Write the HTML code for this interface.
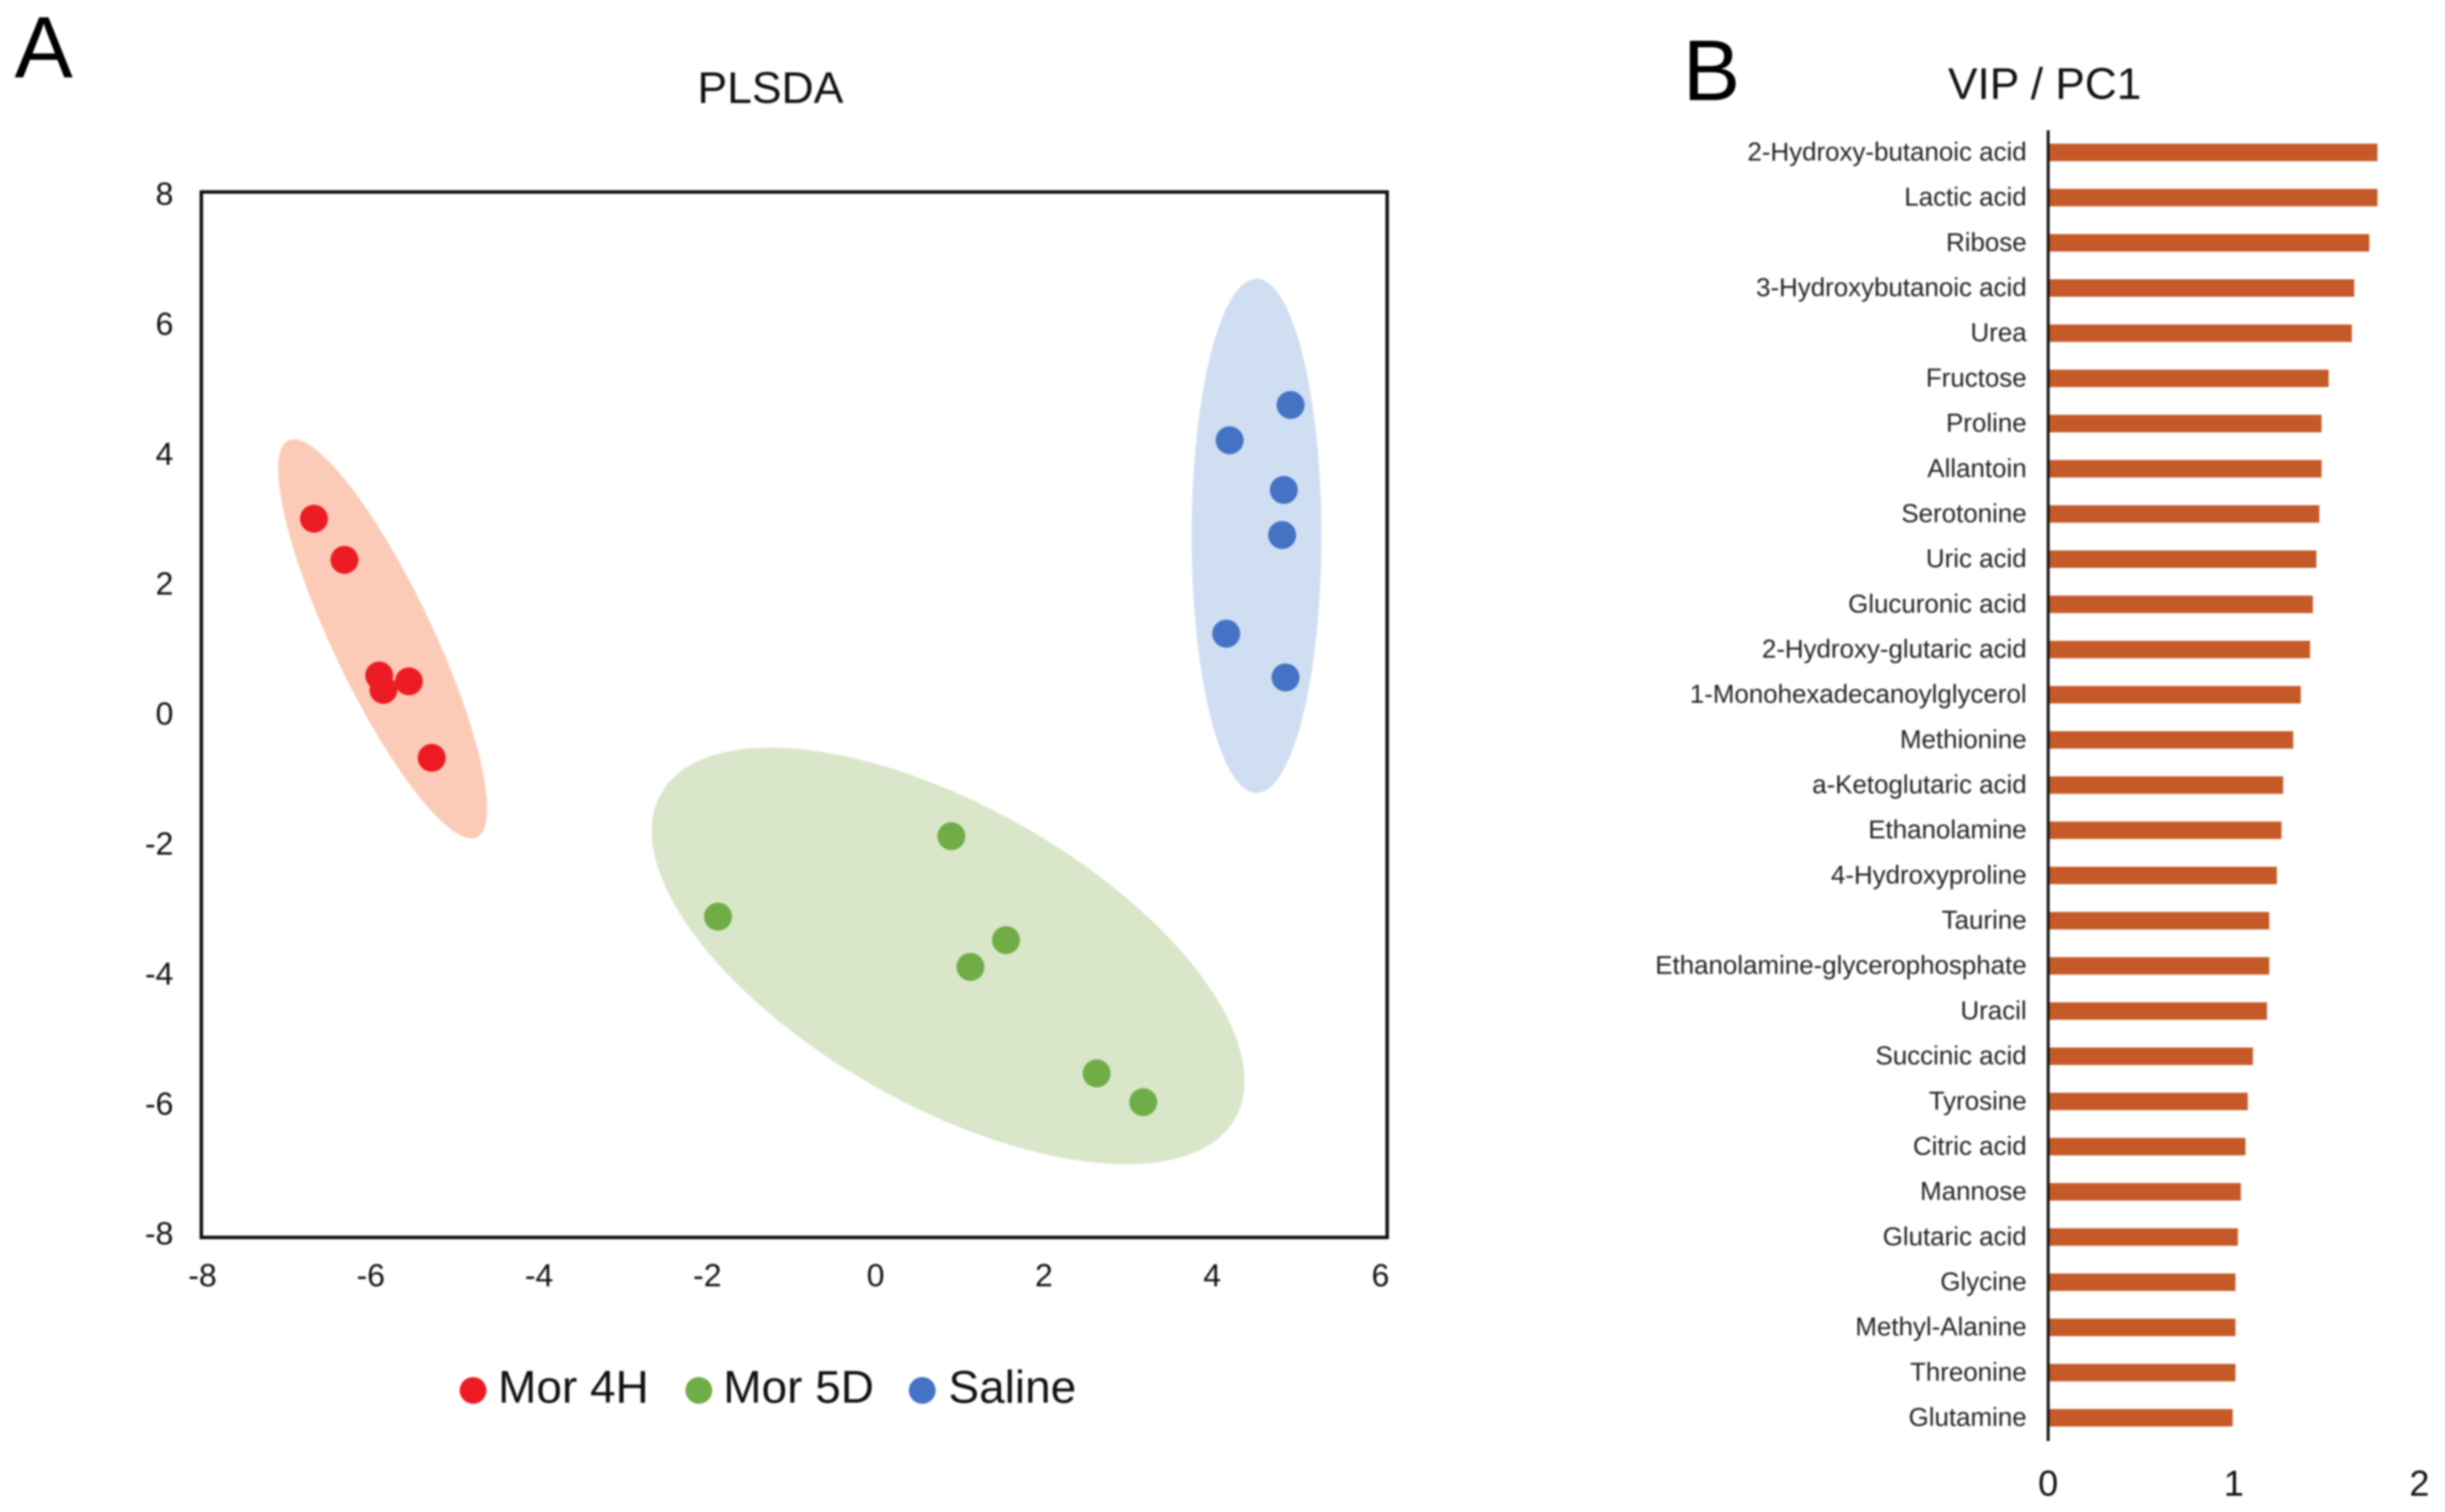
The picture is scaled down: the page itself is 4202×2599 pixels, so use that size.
<!DOCTYPE html>
<html lang="en">
<head>
<meta charset="utf-8">
<title>PLSDA and VIP / PC1</title>
<style>
html,body{margin:0;padding:0;background:#fff;}
svg{display:block;font-family:"Liberation Sans",Arial,sans-serif;filter:blur(1.5px);}
</style>
</head>
<body>
<svg id="figure" xmlns="http://www.w3.org/2000/svg" width="4202" height="2599" viewBox="0 0 4202 2599">
  <rect x="0" y="0" width="4202" height="2599" fill="#ffffff"/>
  <text x="25" y="133" font-size="150" fill="#000">A</text>
  <text x="2892" y="172" font-size="148" fill="#000">B</text>
  <text x="1324" y="177" font-size="76.5" text-anchor="middle" fill="#111">PLSDA</text>
  <text x="3514" y="170" font-size="76" text-anchor="middle" fill="#111">VIP / PC1</text>
  <g id="plsda"></g>
  <g id="vip"></g>
  <g>
    <circle cx="813" cy="2390" r="23" fill="#ed1c24"/>
    <text x="856" y="2411" font-size="79" fill="#111">Mor 4H</text>
    <circle cx="1201" cy="2390" r="23" fill="#70ad47"/>
    <text x="1243" y="2411" font-size="79" fill="#111">Mor 5D</text>
    <circle cx="1585" cy="2390" r="23" fill="#4472c4"/>
    <text x="1630" y="2411" font-size="79" fill="#111">Saline</text>
  </g>
</svg>
<script>
// PLSDA scores
const mor4hX = [-6.67, -6.31, -5.90, -5.85, -5.55, -5.28];
const mor4hY = [3.00, 2.37, 0.60, 0.38, 0.51, -0.66];
const mor5dX = [0.855, -1.90, 1.50, 1.08, 2.57, 3.12];
const mor5dY = [-1.86, -3.09, -3.45, -3.86, -5.49, -5.93];
const salineX = [4.86, 4.14, 4.78, 4.76, 4.10, 4.80];
const salineY = [4.74, 4.20, 3.44, 2.75, 1.24, 0.57];
// Confidence ellipses: mean x, mean y, x half-extent, y half-extent, correlation
const mor4hEllipse = [-5.86, 1.161, 1.233, 3.054, -0.85];
const mor5dEllipse = [0.817, -3.692, 3.50, 3.188, -0.60];
const salineEllipse = [4.458, 2.737, 0.766, 3.936, 0];
const xTickLabels = [-8, -6, -4, -2, 0, 2, 4, 6];
const yTickLabels = [8, 6, 4, 2, 0, -2, -4, -6, -8];

// VIP scores
const vipNames = ["2-Hydroxy-butanoic acid","Lactic acid","Ribose","3-Hydroxybutanoic acid","Urea","Fructose","Proline","Allantoin","Serotonine","Uric acid","Glucuronic acid","2-Hydroxy-glutaric acid","1-Monohexadecanoylglycerol","Methionine","a-Ketoglutaric acid","Ethanolamine","4-Hydroxyproline","Taurine","Ethanolamine-glycerophosphate","Uracil","Succinic acid","Tyrosine","Citric acid","Mannose","Glutaric acid","Glycine","Methyl-Alanine","Threonine","Glutamine"];
const vipValues = [1.774,1.774,1.730,1.649,1.636,1.511,1.473,1.473,1.461,1.445,1.426,1.411,1.361,1.320,1.266,1.257,1.232,1.191,1.191,1.179,1.103,1.075,1.063,1.038,1.022,1.009,1.009,1.009,0.994];
const vipTickLabels = [0, 1, 2];

const NS = 'http://www.w3.org/2000/svg';
function make(parent, tag, attrs, text) {
  const node = document.createElementNS(NS, tag);
  for (const k in attrs) node.setAttribute(k, attrs[k]);
  if (text !== undefined) node.textContent = text;
  parent.appendChild(node);
  return node;
}

// PLSDA axes
const frameL = 346, frameR = 2384, frameT = 330, frameB = 2127;
function xScale(v) { return frameL + (v + 8) * (frameR - frameL) / 14; }
function yScale(v) { return frameT + (8 - v) * (frameB - frameT) / 16; }
function xLabelPos(v) { return 348 + (v + 8) * 144.6; }
function yLabelPos(v) { return 332 + (8 - v) * 111.7; }

const plsda = document.getElementById('plsda');

function drawEllipse(params, color, name) {
  const cx = params[0], cy = params[1], xr = params[2], yr = params[3], rho = params[4];
  const q = Math.sqrt(1 - rho * rho);
  let d = '';
  for (let i = 0; i < 144; i++) {
    const t = i / 144 * 2 * Math.PI;
    const px = xScale(cx + xr * Math.cos(t));
    const py = yScale(cy + yr * (rho * Math.cos(t) + q * Math.sin(t)));
    d += (i ? 'L' : 'M') + px.toFixed(1) + ' ' + py.toFixed(1);
  }
  const e = make(plsda, 'path', { d: d + 'Z', fill: color });
  
  
}
drawEllipse(mor4hEllipse, '#fbcbb7', 'mor-4h-ellipse');
drawEllipse(mor5dEllipse, '#d9e6ca', 'mor-5d-ellipse');
drawEllipse(salineEllipse, '#cfdef1', 'saline-ellipse');

const frame = make(plsda, 'rect', { x: frameL, y: frameT, width: frameR - frameL, height: frameB - frameT, fill: 'none', stroke: '#111', 'stroke-width': 6 });



function drawPoints(xs, ys, color, name) {
  xs.forEach(function (v, i) {
    const c = make(plsda, 'circle', { cx: xScale(v), cy: yScale(ys[i]), r: 24, fill: color });
    
    
  });
}
drawPoints(mor4hX, mor4hY, '#ed1c24', 'mor-4h-point');
drawPoints(mor5dX, mor5dY, '#70ad47', 'mor-5d-point');
drawPoints(salineX, salineY, '#4472c4', 'saline-point');

xTickLabels.forEach(function (t) {
  const l = make(plsda, 'text', { x: xLabelPos(t), y: 2211, 'font-size': 55, 'text-anchor': 'middle', fill: '#111' }, String(t));
  
  
});
yTickLabels.forEach(function (t) {
  const l = make(plsda, 'text', { x: 298, y: yLabelPos(t) + 20, 'font-size': 55, 'text-anchor': 'end', fill: '#111' }, String(t));
  
  
});

// VIP axes
const vip = document.getElementById('vip');
const vipZero = 3520, vipUnit = 319, vipFirst = 262, vipStep = 77.68, vipBarH = 30;
function vipX(v) { return vipZero + v * vipUnit; }
function vipY(i) { return vipFirst + i * vipStep; }

vipNames.forEach(function (name, i) {
  const b = make(vip, 'rect', { x: vipX(0), y: vipY(i) - vipBarH / 2, width: vipX(vipValues[i]) - vipX(0), height: vipBarH, fill: '#c55a28' });
  
  
  const l = make(vip, 'text', { x: 3483, y: vipY(i) + 14, 'font-size': 44.5, 'text-anchor': 'end', fill: '#222' }, name);
  
  
});
const vipAxis = make(vip, 'line', { x1: vipX(0), x2: vipX(0), y1: 224, y2: 2477, stroke: '#111', 'stroke-width': 5 });


vipTickLabels.forEach(function (t) {
  const l = make(vip, 'text', { x: vipX(t), y: 2571, 'font-size': 62, 'text-anchor': 'middle', fill: '#111' }, String(t));
  
  
});
</script>
</body>
</html>
